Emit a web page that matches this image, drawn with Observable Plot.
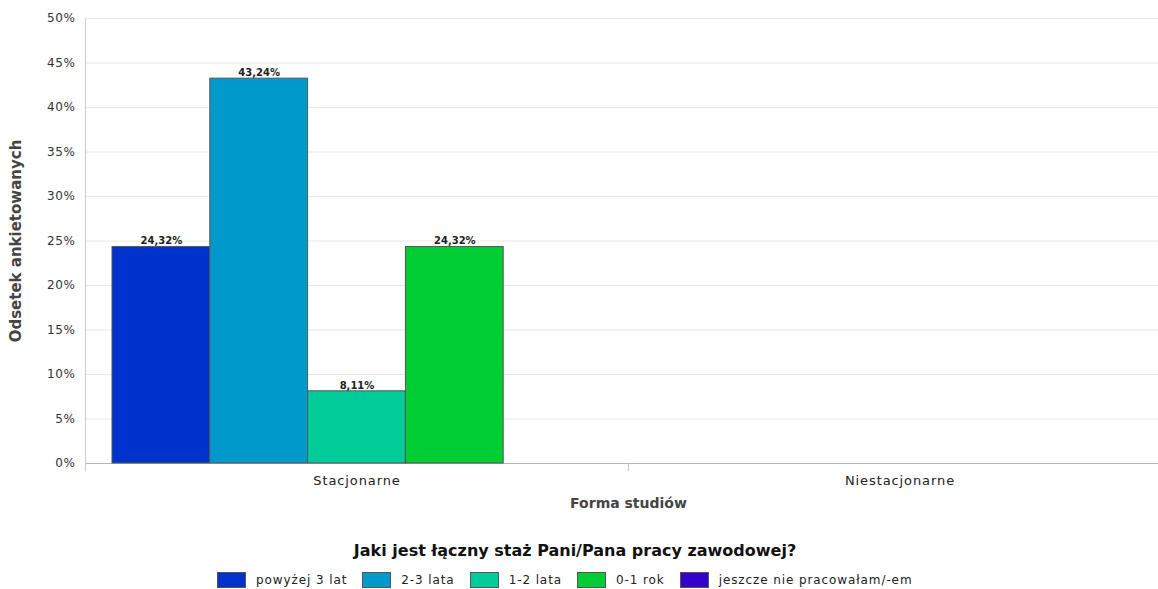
<!DOCTYPE html>
<html>
<head>
<meta charset="utf-8">
<script src="https://cdn.jsdelivr.net/npm/d3@7"></script>
<script src="https://cdn.jsdelivr.net/npm/@observablehq/plot@0.6"></script>
<style>
  body { margin: 0; background: #fff; font-family: "DejaVu Sans", sans-serif; }
  #wrap { width: 1158px; height: 589px; overflow: hidden; position: relative; }
  #chart svg { max-width: none !important; display: block; }
  #legend-title { position: absolute; left: 0; width: 1150px; top: 541px; text-align: center; font: bold 16px "DejaVu Sans", sans-serif; color: #111; line-height: 20px; }
  #legend { position: absolute; left: 217px; top: 572px; display: flex; align-items: center; height: 16px; white-space: nowrap; }
  .item { display: flex; align-items: center; margin-right: 15px; font: 12px "DejaVu Sans", sans-serif; letter-spacing: 0.9px; color: #222; }
  .sw { width: 27px; height: 14px; border: 1px solid #555; margin-right: 10px; }
  g[aria-label="y-axis tick label"] text { letter-spacing: 0.6px; }
  g[aria-label="fx-axis tick label"] text { letter-spacing: 0.9px; }
</style>
</head>
<body>
<div id="wrap">
  <div id="chart"></div>
  <div id="legend-title"></div>
  <div id="legend"></div>
</div>
<script>
const forms = ["Stacjonarne", "Niestacjonarne"];
const categories = ["powyżej 3 lat", "2-3 lata", "1-2 lata", "0-1 rok", "jeszcze nie pracowałam/-em"];
const valuesStacjonarne = [24.32, 43.24, 8.11, 24.32, 0];
const valuesNiestacjonarne = [null, null, null, null, null];
const colors = ["#0033CC", "#0099CC", "#00CC99", "#00CC33", "#3300CC"];
const yTicks = [0, 5, 10, 15, 20, 25, 30, 35, 40, 45, 50];
const yLabel = "Odsetek ankietowanych";
const xLabel = "Forma studiów";
const legendTitle = "Jaki jest łączny staż Pani/Pana pracy zawodowej?";

const seriesByForm = [valuesStacjonarne, valuesNiestacjonarne];
const rows = [];
forms.forEach((f, fi) => {
  categories.forEach((c, i) => {
    const v = seriesByForm[fi][i];
    if (v != null && v > 0) rows.push({forma: f, kat: c, v});
  });
});
const fmt = v => v.toFixed(2).replace(".", ",") + "%";

const W = 1171, H = 518, MT = 18, ML = 85, MB = 55;

const chart = Plot.plot({
  width: W,
  height: H,
  marginTop: MT,
  marginLeft: ML,
  marginRight: 0,
  marginBottom: MB,
  style: {fontFamily: "DejaVu Sans, sans-serif", fontSize: "12px", color: "#333", background: "#fff", maxWidth: "none"},
  fx: {domain: forms, padding: 0, label: null, round: false},
  x: {domain: categories, paddingInner: 0, paddingOuter: 0.276, round: false, axis: null},
  y: {domain: [0, 50], label: null},
  color: {domain: categories, range: colors},
  marks: [
    Plot.gridY(yTicks, {stroke: "#e8e8e8", strokeOpacity: 1}),
    Plot.ruleY([0], {stroke: "#b4b4b4"}),
    // left axis line (first facet only), extending a little below the baseline
    Plot.frame({anchor: "left", fx: () => forms[0], stroke: "#cccccc", strokeOpacity: 1, insetBottom: -7}),
    // small boundary tick between the two groups
    Plot.frame({anchor: "left", fx: () => forms[1], stroke: "#c4c4c4", strokeOpacity: 1, insetTop: H - MT - MB, insetBottom: -7}),
    Plot.axisY(yTicks, {tickSize: 0, tickPadding: 10, tickFormat: d => d + "%", label: null, fontSize: 12, fill: "#333"}),
    Plot.axisY({ticks: [], label: yLabel, labelArrow: "none", labelAnchor: "center", labelOffset: 75, fontWeight: "bold", fontSize: 15, fill: "#444"}),
    Plot.axisFx({anchor: "bottom", tickSize: 0, tickPadding: 12, label: null, fontSize: 13, fill: "#222"}),
    Plot.axisFx({anchor: "bottom", ticks: [], label: xLabel, labelArrow: "none", labelAnchor: "center", labelOffset: 44, fontWeight: "bold", fontSize: 14, fill: "#444"}),
    Plot.barY(rows, {fx: "forma", x: "kat", y: "v", fill: "kat", stroke: "#555", strokeWidth: 1}),
    Plot.text(rows, {fx: "forma", x: "kat", y: "v", text: d => fmt(d.v), dy: -6, fontWeight: "bold", fontSize: 10, fill: "#222"})
  ]
});
document.getElementById("chart").append(chart);

document.getElementById("legend-title").textContent = legendTitle;
const legend = document.getElementById("legend");
categories.forEach((c, i) => {
  const item = document.createElement("div");
  item.className = "item";
  const sw = document.createElement("span");
  sw.className = "sw";
  sw.style.background = colors[i];
  const lab = document.createElement("span");
  lab.textContent = c;
  item.append(sw, lab);
  legend.append(item);
});
</script>
</body>
</html>
